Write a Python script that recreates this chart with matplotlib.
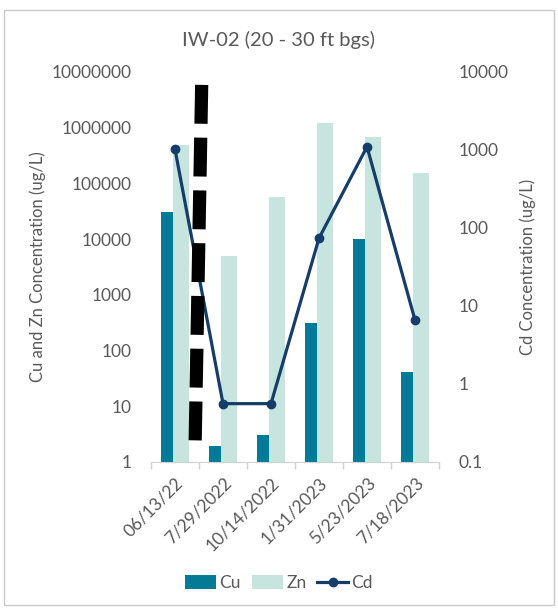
import matplotlib
matplotlib.use("Agg")
import matplotlib.pyplot as plt
import numpy as np
from matplotlib.patches import Rectangle

plt.rcParams['font.family'] = ['Lato', 'DejaVu Sans']
plt.rcParams['lines.scale_dashes'] = False

dates = ["06/13/22", "7/29/2022", "10/14/2022", "1/31/2023", "5/23/2023", "7/18/2023"]
cu = [31000, 1.9, 3.05, 310, 10000, 42]
zn = [490000, 4900, 58000, 1230000, 690000, 157000]
cd = [1020, 0.56, 0.56, 74, 1100, 6.6]

left_ticks = [1, 10, 100, 1000, 10000, 100000, 1000000, 10000000]
right_ticks = [0.1, 1, 10, 100, 1000, 10000]

cu_color = "#037A96"
zn_color = "#C6E5DF"
cd_color = "#163D6A"
text_color = "#595959"
fs = 12.5

fig = plt.figure(figsize=(5.58, 6.11), dpi=100)
fig.patches.append(Rectangle((4/558, 6/611), 550/558, 595/611, transform=fig.transFigure,
                             fill=False, edgecolor="#C8C8C8", linewidth=1.0))

ax = fig.add_axes([151/558, 1 - 462/611, 288/558, 390/611])
x = np.arange(len(dates))
ax.bar(x - 0.29, cu, width=0.25, align='edge', color=cu_color, label="Cu", zorder=2)
ax.bar(x - 0.04, zn, width=0.33, align='edge', color=zn_color, label="Zn", zorder=2)
ax.set_yscale('log')
ax.set_ylim(1, 10000000)
ax.set_xlim(-0.5, len(dates) - 0.5)
ax.set_yticks(left_ticks)
ax.set_yticklabels([f"{t:d}" for t in left_ticks])
ax.yaxis.set_minor_locator(matplotlib.ticker.NullLocator())
ax.tick_params(axis='y', length=0, pad=14, labelsize=fs, labelcolor=text_color)
ax.set_ylabel("Cu and Zn Concentration (ug/L)", fontsize=12, color=text_color)
ax.yaxis.set_label_coords(-0.365, 0.5)

ax.set_xticks(x)
ax.set_xticklabels(dates, rotation=45, ha='right', va='top', rotation_mode='anchor')
ax.tick_params(axis='x', length=0, pad=9, labelsize=fs, labelcolor=text_color)
ax.set_xticks(np.arange(len(dates) + 1) - 0.5, minor=True)
ax.tick_params(axis='x', which='minor', length=5, color="#D0D0D0", width=1)
for s in ['top', 'left', 'right']:
    ax.spines[s].set_visible(False)
ax.spines['bottom'].set_color("#D0D0D0")

ax2 = ax.twinx()
ax2.plot(x, cd, color=cd_color, linewidth=2.3, marker='o', markersize=6, label="Cd", zorder=3)
ax2.set_yscale('log')
ax2.set_ylim(0.1, 10000)
ax2.set_yticks(right_ticks)
ax2.set_yticklabels(["0.1", "1", "10", "100", "1000", "10000"])
ax2.yaxis.set_minor_locator(matplotlib.ticker.NullLocator())
ax2.tick_params(axis='y', length=0, pad=14, labelsize=fs, labelcolor=text_color)
ax2.set_ylabel("Cd Concentration (ug/L)", fontsize=12, color=text_color)
ax2.yaxis.set_label_coords(1.278, 0.5)
for s in ['top', 'left', 'right', 'bottom']:
    ax2.spines[s].set_visible(False)

# thick dashed break marker
ax2.plot([0.176, 0.153], [0.967, 0.039], transform=ax.transAxes, color='black',
         linewidth=9.5, dashes=(28, 10), solid_capstyle='butt', dash_capstyle='butt',
         zorder=5, clip_on=False)

fig.text(0.5, 1 - 40/611, "IW-02 (20 - 30 ft bgs)", ha='center', va='center',
         fontsize=14.5, color=text_color)

h1, l1 = ax.get_legend_handles_labels()
h2, l2 = ax2.get_legend_handles_labels()
fig.legend(h1 + h2, l1 + l2, loc='center', bbox_to_anchor=(0.5, 1 - 583/611), ncol=3,
           frameon=False, fontsize=fs, labelcolor=text_color, handlelength=1.8,
           columnspacing=0.6, handletextpad=0.2, handleheight=0.8)

fig.savefig("out.png", dpi=100)
